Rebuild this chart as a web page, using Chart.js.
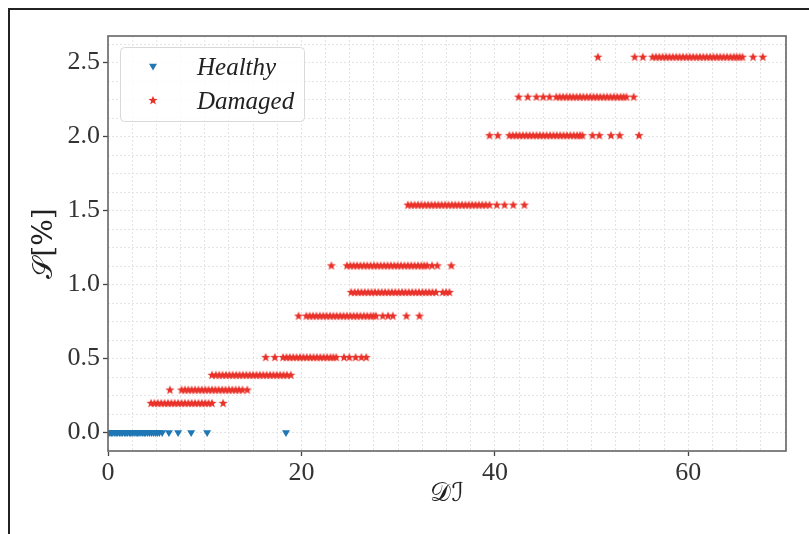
<!DOCTYPE html>
<html>
<head>
<meta charset="utf-8">
<script src="https://cdn.jsdelivr.net/npm/chart.js@4.4.0/dist/chart.umd.min.js"></script>
<style>
  html, body { margin: 0; padding: 0; background: #fff; }
  #wrap { position: relative; width: 809px; height: 534px; overflow: hidden; }
  #frame { position: absolute; left: 8px; top: 8px; width: 820px; height: 540px;
           border-left: 2px solid #222; border-top: 2px solid #222; pointer-events: none; }
  canvas { position: absolute; left: 0; top: 0; }
</style>
</head>
<body>
<div id="wrap">
  <canvas id="chart" width="809" height="534"></canvas>
  <div id="frame"></div>
</div>
<script>
// healthy samples, all at S = 0
const healthyX = [0.05, 0.2, 0.35, 0.5, 0.7, 0.85, 1.0, 1.2, 1.35, 1.5, 1.7, 1.85, 2.0, 2.2, 2.35, 2.5,
  2.7, 2.9, 3.05, 3.2, 3.4, 3.6, 3.75, 3.9, 4.1, 4.3, 4.5, 4.7, 4.9, 5.1, 5.3, 5.6, 6.3, 7.25, 8.6, 10.25, 18.4];

const damagedLevels = [0.2, 0.29, 0.39, 0.51, 0.79, 0.95, 1.13, 1.54, 2.01, 2.27, 2.54];

const d020 = [4.45, 4.8, 5.15, 5.5, 5.85, 6.2, 6.55, 6.9, 7.25, 7.6, 7.95, 8.3, 8.65, 9.0, 9.35, 9.7, 10.05, 10.4, 10.75, 11.9];
const d029 = [6.4, 7.6, 7.95, 8.3, 8.65, 9.0, 9.35, 9.7, 10.05, 10.4, 10.75, 11.1, 11.45, 11.8, 12.15, 12.5, 12.85, 13.2, 13.55, 13.9, 14.4];
const d039 = [10.75, 11.15, 11.5, 11.85, 12.2, 12.55, 12.9, 13.25, 13.6, 13.95, 14.3, 14.65, 15.0, 15.35, 15.7, 16.05, 16.4,
  16.75, 17.1, 17.45, 17.8, 18.15, 18.5, 18.9];
const d051 = [16.3, 17.25, 18.1, 18.45, 18.8, 19.15, 19.5, 19.85, 20.2, 20.55, 20.9, 21.25, 21.6, 21.95, 22.3, 22.65, 23.0,
  23.3, 23.6, 24.4, 24.95, 25.6, 26.2, 26.7];
const d079 = [19.7, 20.5, 20.85, 21.2, 21.55, 21.9, 22.25, 22.6, 22.95, 23.3, 23.65, 24.0, 24.35, 24.7, 25.05, 25.4, 25.75,
  26.1, 26.45, 26.8, 27.15, 27.45, 27.7, 28.4, 28.95, 29.45, 30.85, 32.2];
const d095 = [25.15, 25.5, 25.85, 26.2, 26.55, 26.9, 27.25, 27.6, 27.95, 28.3, 28.65, 29.0, 29.35, 29.7, 30.05, 30.4, 30.75,
  31.1, 31.45, 31.8, 32.15, 32.5, 32.85, 33.2, 33.55, 33.9, 34.6, 34.95, 35.3];
const d113 = [23.1, 24.7, 25.05, 25.4, 25.75, 26.1, 26.45, 26.8, 27.15, 27.5, 27.85, 28.2, 28.55, 28.9, 29.25, 29.6, 29.95,
  30.3, 30.65, 31.0, 31.35, 31.7, 32.05, 32.4, 32.7, 33.0, 33.5, 34.05, 35.5];
const d154 = [31.0, 31.35, 31.7, 32.05, 32.4, 32.75, 33.1, 33.45, 33.8, 34.15, 34.5, 34.85, 35.2, 35.55, 35.9, 36.25, 36.6,
  36.95, 37.3, 37.65, 38.0, 38.35, 38.7, 39.05, 39.45, 40.2, 41.0, 41.9, 43.05];
const d201 = [39.45, 40.3, 41.5, 41.85, 42.2, 42.55, 42.9, 43.25, 43.6, 43.95, 44.3, 44.65, 45.0, 45.35, 45.7, 46.05, 46.4,
  46.75, 47.1, 47.45, 47.8, 48.15, 48.5, 48.8, 49.05, 50.1, 50.8, 52.0, 52.9, 54.9];
const d227 = [42.45, 43.4, 44.3, 45.0, 45.65, 46.35, 46.7, 47.05, 47.4, 47.75, 48.1, 48.45, 48.8, 49.15, 49.5, 49.85, 50.2,
  50.55, 50.9, 51.25, 51.6, 51.95, 52.3, 52.65, 53.0, 53.3, 53.6, 54.35];
const d254 = [50.65, 54.45, 55.3, 56.3, 56.65, 57.0, 57.35, 57.7, 58.05, 58.4, 58.75, 59.1, 59.45, 59.8, 60.15, 60.5, 60.85,
  61.2, 61.55, 61.9, 62.25, 62.6, 62.95, 63.3, 63.65, 64.0, 64.35, 64.7, 65.0, 65.3, 65.6, 66.7, 67.7];
const damagedX = [d020, d029, d039, d051, d079, d095, d113, d154, d201, d227, d254];

const xTickLabels = [0, 20, 40, 60];
const yTickLabels = [0, 0.5, 1.0, 1.5, 2.0, 2.5];

const blue = '#1f77b4';
const red = '#e9322a';

// filled 5 point star like matplotlib '*'
function makeStar(color, r) {
    const c = document.createElement('canvas');
    const s = Math.ceil(r * 2 + 2);
    c.width = s; c.height = s;
    const g = c.getContext('2d');
    g.fillStyle = color;
    g.beginPath();
    for (let i = 0; i < 10; i++) {
        const rad = i % 2 ? r * 0.42 : r;
        const a = -Math.PI / 2 + i * Math.PI / 5;
        const px = s / 2 + rad * Math.cos(a), py = s / 2 + rad * Math.sin(a) + 0.5;
        if (i) g.lineTo(px, py); else g.moveTo(px, py);
    }
    g.closePath();
    g.fill();
    return c;
}
const star = makeStar(red, 4.8);

const healthyPoints = healthyX.map(x => ({x: x, y: 0}));
const damagedPoints = [];
damagedLevels.forEach((lv, i) => damagedX[i].forEach(x => damagedPoints.push({x: x, y: lv})));

function near(v, list) {
    return list.some(t => Math.abs(v - t) < 1e-6);
}

const tickFont = {family: '"Liberation Serif", serif', size: 26};

// plot frame on all four sides
const framePlugin = {
    id: 'frame',
    afterDraw(chart) {
        const a = chart.chartArea, c = chart.ctx;
        c.save();
        c.strokeStyle = '#666';
        c.lineWidth = 1.6;
        c.strokeRect(a.left, a.top, a.right - a.left, a.bottom - a.top);
        c.restore();
    }
};

// boxed legend inside the plot, top left
const legendPlugin = {
    id: 'boxLegend',
    afterDraw(chart) {
        const c = chart.ctx;
        c.save();
        c.beginPath();
        c.roundRect(120.5, 47.5, 184, 74, 4);
        c.fillStyle = 'rgba(255,255,255,0.85)';
        c.fill();
        c.strokeStyle = '#d9d9d9';
        c.lineWidth = 1;
        c.stroke();
        c.fillStyle = blue;
        Chart.helpers.drawPoint(c, {pointStyle: 'triangle', rotation: 180, radius: 4.6, borderWidth: 0}, 153, 66);
        c.drawImage(star, 153 - star.width / 2, 100 - star.height / 2);
        c.fillStyle = '#222';
        c.font = 'italic 25px "Liberation Serif", serif';
        c.textBaseline = 'middle';
        c.fillText('Healthy', 197, 68);
        c.fillText('Damaged', 197, 102);
        c.restore();
    }
};

new Chart(document.getElementById('chart'), {
    type: 'scatter',
    data: {
        datasets: [{
            label: 'Healthy',
            data: healthyPoints,
            pointStyle: 'triangle',
            rotation: 180,
            pointRadius: 4.6,
            borderWidth: 0,
            backgroundColor: blue,
            borderColor: blue
        }, {
            label: 'Damaged',
            data: damagedPoints,
            pointStyle: star,
            pointRadius: 4.8,
            borderWidth: 0,
            backgroundColor: red,
            borderColor: red
        }]
    },
    options: {
        animation: false,
        responsive: false,
        layout: {padding: {left: 14, top: 36, right: 23, bottom: 8}},
        plugins: {legend: {display: false}, tooltip: {enabled: false}},
        scales: {
            x: {
                type: 'linear',
                bounds: 'data',
                min: 0,
                max: 70.1,
                afterFit: s => { s.height = 75; },
                ticks: {
                    stepSize: 2.5, autoSkip: false, maxRotation: 0, includeBounds: false, maxTicksLimit: 1000,
                    font: tickFont, color: '#333', padding: 2,
                    callback: v => near(v, xTickLabels) ? String(Math.round(v)) : ''
                },
                grid: {
                    color: '#e4e4e4', lineWidth: 1, tickLength: 5, tickWidth: 1.3,
                    tickColor: ctx => ctx.tick && near(ctx.tick.value, xTickLabels) ? '#444' : 'rgba(0,0,0,0)'
                },
                border: {display: false, dash: [2, 2]},
                title: {
                    display: true, text: '𝒟ℐ', color: '#222',
                    font: {family: '"DejaVu Serif", "DejaVu Sans", serif', size: 26},
                    padding: {top: 0, bottom: 16}
                }
            },
            y: {
                type: 'linear',
                bounds: 'data',
                min: -0.125,
                max: 2.68,
                afterFit: s => { s.width = 94; },
                ticks: {
                    stepSize: 0.125, autoSkip: false, includeBounds: false, maxTicksLimit: 1000,
                    font: tickFont, color: '#333', padding: 3,
                    callback: v => near(v, yTickLabels) ? v.toFixed(1) : ''
                },
                grid: {
                    color: '#e4e4e4', lineWidth: 1, tickLength: 5, tickWidth: 1.3,
                    tickColor: ctx => ctx.tick && near(ctx.tick.value, yTickLabels) ? '#444' : 'rgba(0,0,0,0)'
                },
                border: {display: false, dash: [2, 2]},
                title: {
                    display: true, text: '𝒮[%]', color: '#222',
                    font: {family: '"DejaVu Serif", "DejaVu Sans", serif', size: 28},
                    padding: {top: 14, bottom: 0}
                }
            }
        }
    },
    plugins: [framePlugin, legendPlugin]
});
</script>
</body>
</html>
